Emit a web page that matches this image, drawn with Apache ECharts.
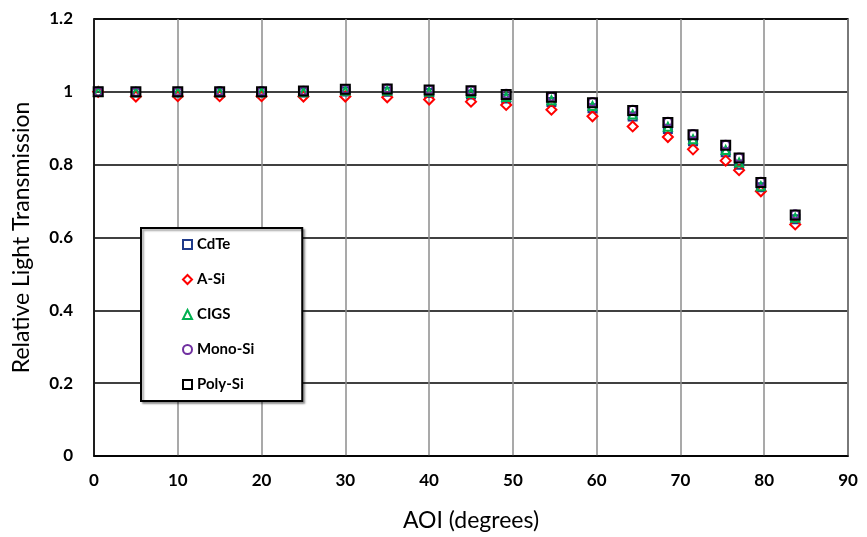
<!DOCTYPE html>
<html>
<head>
<meta charset="utf-8">
<script src="https://cdn.jsdelivr.net/npm/echarts@6/dist/echarts.min.js"></script>
<style>html,body{margin:0;padding:0;background:#fff}#c{width:867px;height:537px}</style>
</head>
<body>
<div id="c"></div>
<script>
const aoi = [0.5, 5, 10, 15, 20, 25, 30, 35, 40, 45, 49.2, 54.6, 59.5, 64.3, 68.5, 71.5, 75.4, 77, 79.6, 83.7];
const cdte = [1.0, 0.998, 0.998, 0.998, 0.998, 0.998, 1.001, 1.0, 0.997, 0.993, 0.982, 0.972, 0.955, 0.932, 0.898, 0.864, 0.834, 0.800, 0.738, 0.650];
const aSi = [1.0, 0.987, 0.988, 0.988, 0.988, 0.987, 0.987, 0.985, 0.979, 0.973, 0.964, 0.951, 0.933, 0.905, 0.876, 0.842, 0.811, 0.785, 0.727, 0.636];
const cigs = [1.0, 0.999, 0.999, 0.999, 0.999, 0.999, 1.003, 1.003, 1.0, 0.997, 0.986, 0.977, 0.961, 0.938, 0.904, 0.870, 0.840, 0.806, 0.741, 0.654];
const monoSi = [1.0, 1.0, 1.001, 1.002, 1.002, 1.003, 1.008, 1.009, 1.006, 1.004, 0.995, 0.987, 0.972, 0.951, 0.918, 0.884, 0.855, 0.820, 0.753, 0.664];
const polySi = [1.0, 1.0, 1.0, 1.0, 1.0, 1.002, 1.007, 1.008, 1.005, 1.003, 0.993, 0.985, 0.970, 0.949, 0.916, 0.882, 0.853, 0.818, 0.751, 0.662];
const names = ['CdTe', 'A-Si', 'CIGS', 'Mono-Si', 'Poly-Si'];
const xTicks = [0, 10, 20, 30, 40, 50, 60, 70, 80, 90];

const seriesDefs = [
  {name: names[0], vals: cdte, symbol: 'rect', color: '#1F3A8A', size: 8},
  {name: names[1], vals: aSi, symbol: 'diamond', color: '#FF0000', size: 10},
  {name: names[2], vals: cigs, symbol: 'triangle', color: '#00B050', size: 8},
  {name: names[3], vals: monoSi, symbol: 'circle', color: '#7030A0', size: 8},
  {name: names[4], vals: polySi, symbol: 'rect', color: '#000000', size: 9}
];

const chart = echarts.init(document.getElementById('c'));
const font = 'Lato, "Open Sans", sans-serif';
chart.setOption({
  animation: false,
  grid: {left: 94, right: 19, top: 19, bottom: 81, show: true, borderColor: '#000', borderWidth: 1.5, backgroundColor: 'transparent'},
  legend: {
    orient: 'vertical', left: 141, top: 228,
    padding: [9, 48, 9, 41], itemGap: 20,
    itemWidth: 9, itemHeight: 9,
    backgroundColor: '#fff', borderColor: '#000', borderWidth: 2,
    shadowColor: 'rgba(0,0,0,0.35)', shadowOffsetX: 2, shadowOffsetY: 2, shadowBlur: 2,
    textStyle: {fontFamily: font, fontWeight: 'bold', fontSize: 15, color: '#000'},
    data: names
  },
  xAxis: {
    type: 'value', min: xTicks[0], max: xTicks[xTicks.length - 1], interval: 10,
    name: 'AOI (degrees)', nameLocation: 'middle', nameGap: 53,
    nameTextStyle: {fontFamily: font, fontSize: 23, color: '#000'},
    axisLine: {show: true, lineStyle: {color: '#000', width: 1.5}},
    axisTick: {show: false},
    axisLabel: {fontFamily: font, fontWeight: 'bold', fontSize: 17, color: '#000', margin: 16},
    splitLine: {show: true, lineStyle: {color: '#8c8c8c', width: 1.5}}
  },
  yAxis: {
    type: 'value', min: 0, max: 1.2, interval: 0.2,
    name: 'Relative Light Transmission', nameLocation: 'middle', nameGap: 61,
    nameTextStyle: {fontFamily: font, fontSize: 23, color: '#000'},
    axisLine: {show: true, lineStyle: {color: '#000', width: 1.5}},
    axisTick: {show: false},
    axisLabel: {fontFamily: font, fontWeight: 'bold', fontSize: 17, color: '#000', margin: 21},
    splitLine: {show: true, lineStyle: {color: '#000', width: 1.5}}
  },
  series: seriesDefs.map(d => ({
    name: d.name, type: 'scatter', symbol: d.symbol, symbolSize: d.size,
    data: aoi.map((x, i) => [x, d.vals[i]]),
    itemStyle: {color: 'rgba(255,255,255,0)', borderColor: d.color, borderWidth: 2, opacity: 1}
  }))
});
</script>
</body>
</html>
